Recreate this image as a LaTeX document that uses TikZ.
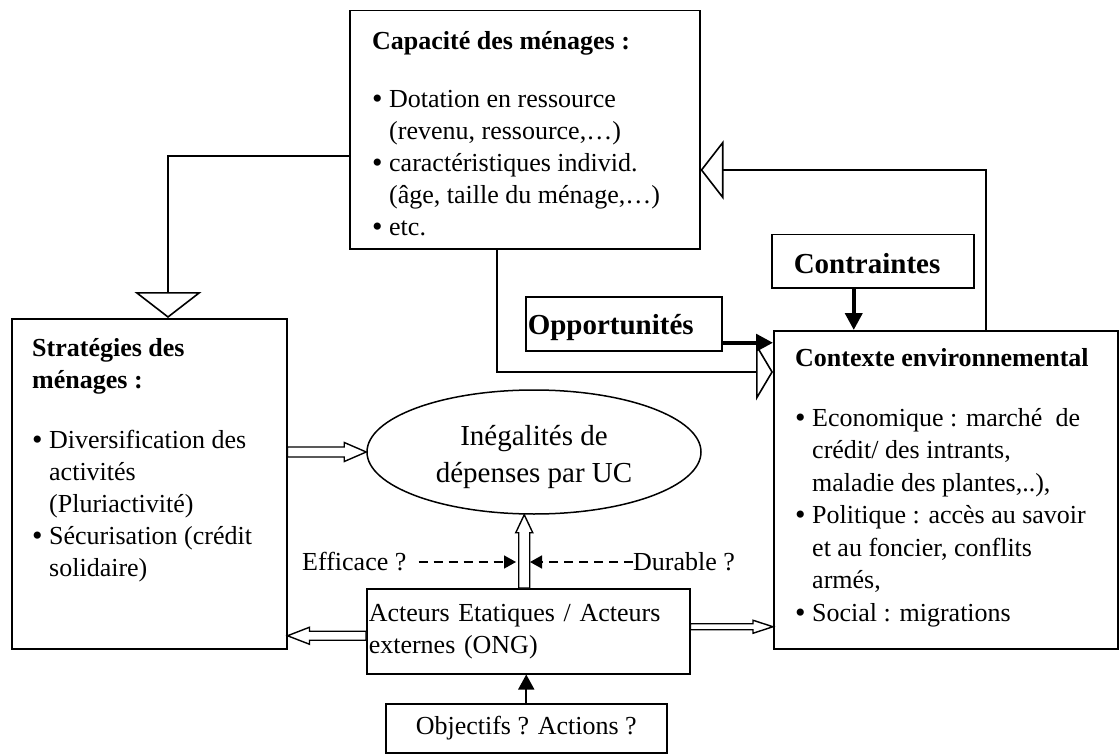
\documentclass[tikz,border=0pt]{standalone}
\usepackage{fontspec}
\setmainfont{Liberation Serif}
\usetikzlibrary{arrows.meta,calc,shapes.geometric}
\newcommand\bul{\makebox[17pt][l]{\raisebox{-1pt}{\scalebox{1.15}{\textbullet}}}}
\newcommand\ind{\hspace*{17pt}}
\newcommand\blockarr[5]{%
  \path #4 coordinate (ba-s) #5 coordinate (ba-e);
  \coordinate (ba-h) at ($(ba-e)!#3!(ba-s)$);
  \filldraw[blk] ($(ba-s)!#1!90:(ba-e)$) -- ($(ba-h)!#1!90:(ba-e)$) -- ($(ba-h)!#2!90:(ba-e)$) -- (ba-e) -- ($(ba-h)!#2!-90:(ba-e)$) -- ($(ba-h)!#1!-90:(ba-e)$) -- ($(ba-s)!#1!-90:(ba-e)$) -- cycle;}
\tikzset{
  box/.style={draw, rectangle, line width=1.5pt, inner sep=0pt, anchor=north west},
  txt/.style={inner sep=0pt, align=left, anchor=north west, font=\fontsize{26}{32}\selectfont},
  lbl/.style={inner sep=0pt, font=\fontsize{26}{32}\selectfont},
  ln/.style={line width=1.6pt},
  blk/.style={draw=black, fill=white, line width=1.4pt, line join=miter},
  bigA/.style={ln, -{Triangle[open,length=26pt,width=67pt]}},
  bigB/.style={ln, -{Triangle[open,length=17pt,width=57pt]}},
  bigC/.style={ln, -{Triangle[open,length=23pt,width=59pt]}},
  thk/.style={line width=4pt, -{Triangle[length=17pt,width=17pt]}},
  dsh/.style={line width=1.6pt, dash pattern=on 9pt off 6pt, -{Triangle[length=12pt,width=13pt]}},
  solidarr/.style={ln, -{Triangle[length=15pt,width=16pt]}}
}
\begin{document}
\begin{tikzpicture}[x=1pt,y=-1pt]
\useasboundingbox (0,0) rectangle (1119,754);

% boxes
\node[box, minimum width=350pt, minimum height=238pt] (cap) at (349,10) {};
\node[box, minimum width=275pt, minimum height=330pt] (strat) at (11,318) {};
\node[box, minimum width=344pt, minimum height=318pt] (ctx) at (773,330) {};
\node[box, minimum height=53pt, inner xsep=22pt, text width=158pt, align=left,
      font=\fontsize{29}{34}\selectfont\bfseries] (ctr) at (771,234) {\rule{0pt}{24pt}Contraintes};
\node[box, minimum height=54pt, inner xsep=2pt, text width=192pt, align=left,
      font=\fontsize{29}{34}\selectfont\bfseries] (opp) at (525,296) {\rule{0pt}{27pt}Opportunités};
\node[box, minimum height=85pt, inner xsep=2pt, text width=319pt, align=left,
      font=\fontsize{26}{32}\selectfont] (act) at (366,588) {\strut Acteurs Etatiques / Acteurs\\\strut externes (ONG)};
\node[box, minimum width=281pt, minimum height=49pt,
      font=\fontsize{26}{32}\selectfont] (obj) at (385,703) {Objectifs ? Actions ?};
\node[draw, ellipse, line width=1.5pt, minimum width=334pt, minimum height=124pt, inner sep=0pt,
      align=center, font=\fontsize{29}{37}\selectfont] (ell) at (534,452) {\rule{0pt}{31pt}Inégalités de\\dépenses par UC};

% box texts
\node[txt] (captxt) at (372,26.6) {\strut\textbf{Capacité des ménages :}\\[26pt]
\bul Dotation en ressource\\
\ind(revenu, ressource,…)\\
\bul caractéristiques individ.\\
\ind(âge, taille du ménage,…)\\
\bul etc.};

\node[txt] (strattxt) at (32,333.6) {\strut\textbf{Stratégies des}\\
\textbf{ménages :}\\[28pt]
\bul Diversification des\\
\ind activités\\
\ind(Pluriactivité)\\
\bul Sécurisation (crédit\\
\ind solidaire)};

\node[txt, font=\fontsize{26}{32.5}\selectfont] (ctxtxt) at (795,343.3) {\strut\textbf{Contexte environnemental}\\[27.5pt]
\bul Economique : marché \ de\\
\ind crédit/ des intrants,\\
\ind maladie des plantes,..),\\
\bul Politique : accès au savoir\\
\ind et au foncier, conflits\\
\ind armés,\\
\bul Social : migrations};

% labels
\node[lbl, anchor=west] (eff) at (302,562) {Efficace ?};
\node[lbl, anchor=west] (dur) at (633,562) {Durable ?};

% big open-triangle connectors
\coordinate (c1) at (168,156);
\draw[bigA] (c1 -| cap.west) -| (strat.north -| c1);
\coordinate (c2) at (497,372);
\draw[bigB] (cap.south -| c2) |- (ctx.west |- c2);
\coordinate (c3) at (986,170);
\draw[bigC] (ctx.north -| c3) |- (cap.east |- c3);

% thick arrows
\coordinate (ct) at ([xshift=-19pt]ctr.south);
\draw[thk] (ct) -- (ct |- ctx.north);
\coordinate (op) at ([yshift=-19pt]opp.east);
\draw[thk] (op) -- (op -| ctx.west);

% block (hollow) arrows
\blockarr{5pt}{9.5pt}{22pt}{(ell.west -| strat.east)}{(ell.west)}
\coordinate (acx) at ([xshift=-4pt]act.north);
\blockarr{5.5pt}{8.5pt}{18pt}{(acx)}{(acx |- ell.south)}
\coordinate (aw) at ([yshift=-4.5pt]act.west);
\blockarr{4.5pt}{8.5pt}{22pt}{(aw)}{(aw -| strat.east)}
\coordinate (ae) at ([yshift=4.5pt]act.east);
\blockarr{3pt}{6.5pt}{20pt}{(ae)}{(ae -| ctx.west)}

% dashed arrows
\coordinate (effend) at (516,562);
\coordinate (durend) at (530,562);
\draw[dsh] ([xshift=12pt]eff.east) -- (effend);
\draw[dsh] (dur.west) -- (durend);

% objectifs arrow
\draw[solidarr] (obj.north) -- (obj.north |- act.south);
\end{tikzpicture}
\end{document}
